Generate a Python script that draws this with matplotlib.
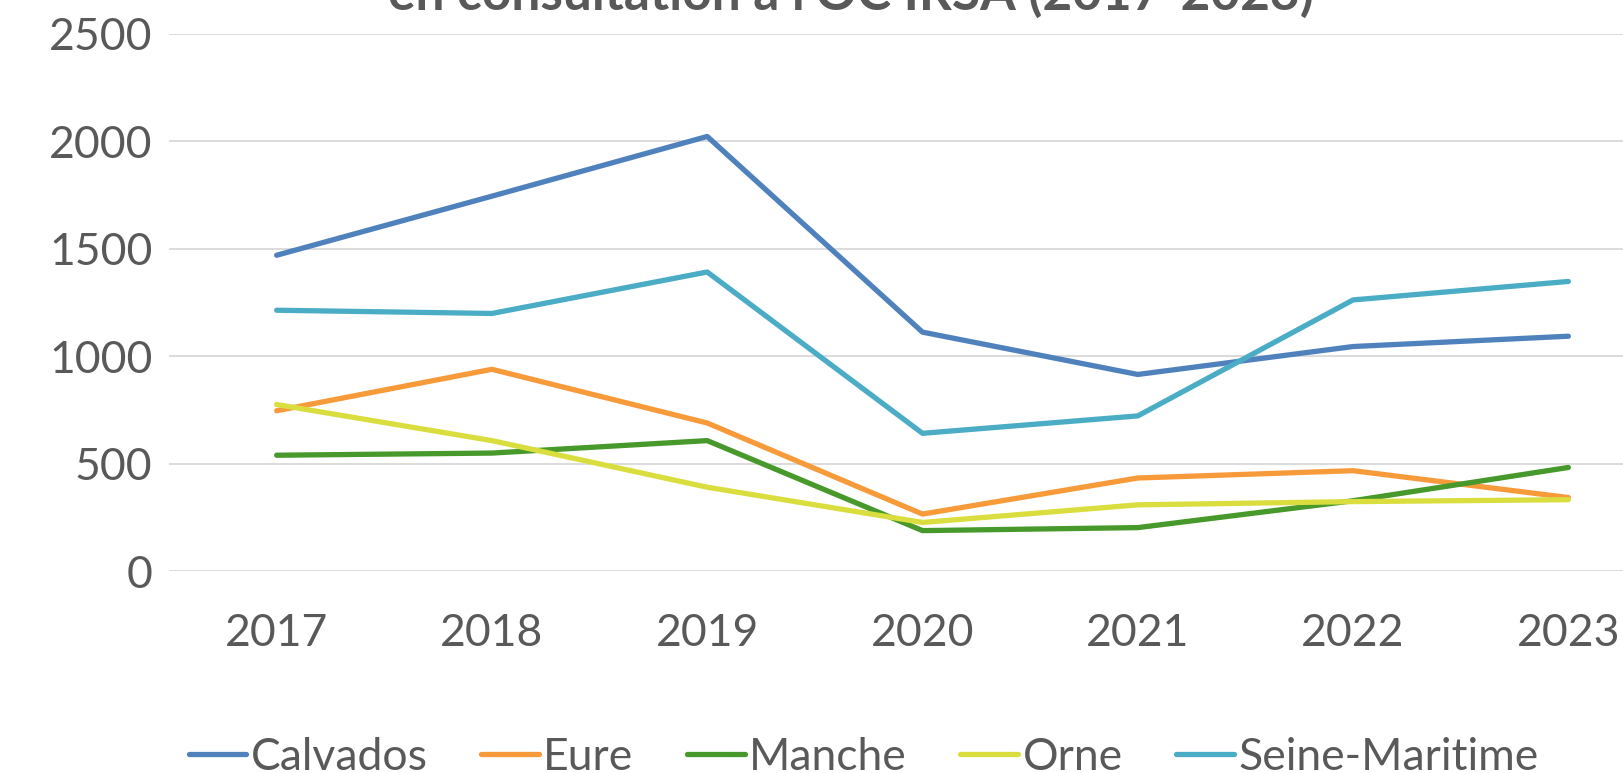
import numpy as np
import matplotlib
matplotlib.use("Agg")
from matplotlib import pyplot as plt

years = ["2017", "2018", "2019", "2020", "2021", "2022", "2023"]
calvados = [1470, 1745, 2023, 1112, 915, 1045, 1093]
eure = [746, 939, 689, 265, 433, 467, 342]
manche = [539, 549, 607, 188, 202, 327, 482]
orne = [775, 607, 390, 226, 308, 323, 332]
seine_maritime = [1214, 1199, 1392, 641, 722, 1262, 1348]

series = [
    ("Calvados", calvados, "#4f81bd"),
    ("Eure", eure, "#f79a3a"),
    ("Manche", manche, "#46992a"),
    ("Orne", orne, "#d9de3e"),
    ("Seine-Maritime", seine_maritime, "#4bacc6"),
]

plt.rcParams['font.family'] = ['Lato', 'DejaVu Sans']
txt = "#595959"

fig = plt.figure(figsize=(16.23, 7.73), dpi=100)
ax = fig.add_axes([169/1623, 1 - 571/773, 1507/1623, (571 - 34)/773])

x = np.arange(len(years))
for name, vals, col in series:
    ax.plot(x, vals, color=col, lw=3.8, label=name, solid_capstyle='round')

ax.set_xlim(-0.5, 6.5)
ax.set_ylim(0, 2500)
ax.set_yticks(range(0, 2501, 500))
ax.set_xticks(x)
ax.set_xticklabels(years)
ax.grid(axis='y', color='#d9d9d9', lw=1.3)
ax.set_axisbelow(True)
for s in ax.spines.values():
    s.set_visible(False)
ax.tick_params(length=0, labelsize=32, colors=txt)
ax.tick_params(axis='y', pad=12)
ax.tick_params(axis='x', pad=30)

fig.text(0.524, 1 - 10/773, "en consultation à l'OC IRSA (2017-2023)",
         ha='center', va='baseline', fontsize=37, fontweight='bold', color=txt)

fig.legend(loc='center', bbox_to_anchor=(0.532, 1 - 757/773), ncol=5,
           frameon=False, fontsize=32, labelcolor=txt, handlelength=1.3,
           handletextpad=0.1, columnspacing=1.2)

fig.savefig("out.png", dpi=100)
